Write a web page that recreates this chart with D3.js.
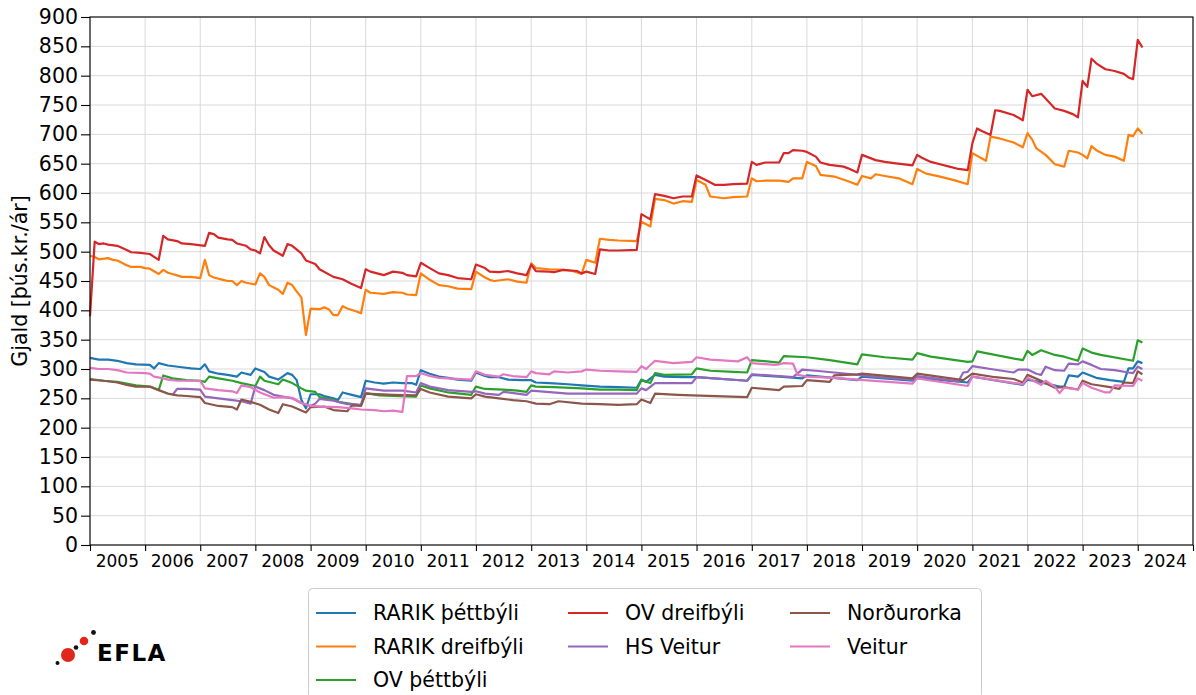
<!DOCTYPE html>
<html>
<head>
<meta charset="utf-8">
<script src="https://cdn.jsdelivr.net/npm/d3@7"></script>
<style>
  body { margin: 0; background: #fff; }
  text { font-family: "DejaVu Sans", sans-serif; fill: #000; }
</style>
</head>
<body>
<svg width="1196" height="695"></svg>
<script>
// Series names (legend order) and matplotlib default colours
const seriesNames = ["RARIK þéttbýli", "RARIK dreifbýli", "OV þéttbýli", "OV dreifbýli",
                     "HS Veitur", "Norðurorka", "Veitur"];
const seriesColors = ["#1f77b4", "#ff7f0e", "#2ca02c", "#d62728", "#9467bd", "#8c564b", "#e377c2"];

// Tick labels
const yearLabels = d3.range(2005, 2025);
const yTickValues = d3.range(0, 901, 50);

// Data: [months since Jan 2005, þús.kr./ár]
const rarikThett = [[0,319],[2,316],[4,316],[6,314],[8,310],[10,308],[13,307],[14,301],[15,310],[17,306],[20,303],[22,301],[24,300],[25,308],[26,296],[28,292],[30,290],[32,287],[33,294],[34,292],[35,290],[36,301],[38,295],[39,287],[41,282],[43,293],[44,290],[45,281],[46,247],[47,233],[48,257],[50,257],[51,254],[53,250],[54,247],[55,260],[57,256],[59,252],[60,280],[62,277],[64,275],[66,277],[68,276],[70,276],[71,273],[72,298],[74,292],[76,287],[78,285],[80,282],[83,280],[84,294],[86,288],[87,286],[89,286],[91,282],[94,281],[96,281],[97,277],[100,276],[104,274],[107,272],[111,270],[115,269],[119,268],[120,282],[121,278],[123,290],[125,287],[129,286],[132,286],[143,280],[144,290],[150,287],[155,284],[156,289],[167,281],[168,287],[179,280],[180,285],[191,277],[192,287],[203,273],[204,282],[206,279],[211,270],[212,270],[213,289],[215,287],[216,294],[219,285],[222,281],[225,278],[226,301],[227,301],[228,313],[229,310]];

const rarikDreif = [[0,493],[1,491],[2,487],[4,489],[5,486],[6,485],[8,477],[9,474],[11,474],[12,472],[13,471],[15,462],[16,469],[17,464],[18,462],[20,457],[22,457],[24,455],[25,486],[26,460],[27,456],[29,452],[30,450],[31,450],[32,443],[33,450],[34,447],[36,444],[37,463],[38,457],[39,443],[41,435],[42,428],[43,447],[44,443],[45,432],[46,422],[47,358],[48,403],[50,402],[51,405],[52,402],[53,392],[54,392],[55,407],[56,403],[58,398],[59,395],[60,435],[61,430],[64,428],[66,431],[68,430],[69,427],[71,426],[72,463],[74,452],[76,443],[78,441],[80,437],[83,436],[84,466],[86,456],[87,452],[88,450],[91,453],[93,449],[95,447],[96,480],[97,472],[100,470],[103,469],[105,467],[107,462],[108,486],[110,481],[111,522],[113,520],[115,519],[119,518],[120,551],[122,543],[123,590],[125,588],[127,582],[129,586],[131,585],[132,622],[134,614],[135,594],[138,591],[140,593],[143,594],[144,625],[145,620],[147,621],[150,621],[152,619],[153,625],[155,625],[156,653],[158,646],[159,631],[162,628],[165,620],[167,614],[168,629],[170,625],[171,632],[173,629],[176,625],[179,615],[180,641],[182,633],[185,628],[188,622],[191,615],[192,668],[195,655],[196,696],[198,693],[201,686],[203,678],[204,702],[205,691],[206,676],[208,665],[210,649],[212,645],[213,672],[215,669],[216,665],[217,659],[218,680],[219,673],[221,665],[223,662],[225,655],[226,699],[227,697],[228,710],[229,701]];

const ovThett = [[0,283],[3,280],[6,278],[10,272],[13,270],[15,264],[16,289],[18,284],[21,281],[24,280],[25,278],[26,287],[28,284],[31,280],[33,276],[36,271],[37,287],[38,280],[41,274],[42,282],[44,276],[46,267],[47,263],[49,261],[50,252],[53,248],[54,244],[59,238],[60,259],[63,255],[66,254],[71,253],[72,272],[74,267],[78,260],[83,256],[84,270],[86,266],[90,265],[93,263],[95,261],[96,272],[97,270],[101,269],[107,267],[111,265],[115,265],[119,264],[120,281],[122,276],[123,293],[125,290],[131,291],[132,301],[135,297],[140,295],[143,294],[144,315],[146,314],[150,311],[151,322],[156,320],[161,315],[167,308],[168,325],[173,320],[179,316],[180,327],[183,321],[191,312],[192,313],[193,330],[195,327],[203,315],[204,331],[205,324],[207,332],[210,324],[212,321],[215,314],[216,335],[218,328],[220,324],[227,314],[228,349],[229,345]];

const ovDreif = [[0,390],[1,517],[2,513],[3,514],[4,512],[6,510],[8,503],[9,499],[11,498],[13,496],[15,486],[16,527],[17,521],[19,518],[20,514],[22,513],[25,510],[26,532],[27,530],[28,524],[30,521],[31,520],[32,514],[34,510],[35,504],[36,502],[37,497],[38,525],[39,511],[40,502],[42,493],[43,513],[44,510],[46,497],[47,485],[49,479],[50,470],[53,457],[55,453],[57,445],[59,438],[60,470],[61,466],[64,460],[66,466],[68,464],[69,460],[71,458],[72,481],[74,472],[76,463],[78,460],[80,455],[83,453],[84,478],[86,472],[87,466],[89,465],[91,467],[93,463],[95,460],[96,478],[97,467],[100,466],[101,465],[103,469],[106,467],[107,463],[108,466],[110,462],[111,504],[113,502],[115,502],[119,503],[120,564],[122,555],[123,598],[125,595],[127,591],[129,594],[131,594],[132,630],[134,622],[136,614],[138,614],[140,615],[143,616],[144,653],[145,648],[147,652],[150,652],[151,668],[152,668],[153,673],[155,672],[156,670],[158,662],[159,652],[161,648],[164,645],[165,642],[167,635],[168,665],[171,656],[173,653],[175,651],[179,647],[180,665],[181,660],[183,653],[185,649],[187,645],[189,641],[191,639],[192,685],[193,710],[194,706],[196,699],[197,741],[198,740],[201,733],[203,724],[204,776],[205,765],[207,769],[208,761],[210,744],[212,740],[214,734],[215,729],[216,791],[217,781],[218,829],[219,821],[221,811],[223,808],[225,803],[226,797],[227,794],[228,861],[229,848]];

const hsVeitur = [[18,256],[19,266],[21,266],[24,265],[25,253],[28,250],[31,247],[33,245],[35,241],[36,270],[38,264],[40,256],[42,253],[44,250],[46,242],[48,237],[49,241],[50,249],[53,246],[56,240],[59,239],[60,267],[64,263],[68,263],[71,260],[72,276],[74,270],[78,264],[83,261],[84,262],[86,258],[89,256],[90,261],[95,256],[96,263],[104,258],[111,258],[115,258],[119,258],[120,267],[121,264],[123,276],[131,276],[132,286],[143,280],[144,291],[150,288],[153,286],[155,299],[158,297],[162,294],[167,290],[172,286],[179,282],[180,288],[189,279],[190,294],[191,295],[192,305],[196,300],[201,294],[202,299],[204,299],[206,292],[207,290],[208,304],[210,298],[212,297],[213,309],[215,308],[216,313],[218,307],[220,300],[223,298],[226,294],[227,293],[228,304],[229,300]];

const nordurorka = [[0,282],[3,280],[6,277],[8,273],[10,270],[13,270],[15,264],[17,258],[19,255],[21,254],[24,252],[25,242],[28,237],[31,235],[32,231],[33,248],[35,244],[37,239],[39,231],[41,225],[42,240],[44,236],[47,226],[48,235],[51,236],[53,230],[56,228],[57,238],[59,237],[60,258],[66,256],[71,255],[72,266],[74,260],[78,253],[83,250],[84,257],[86,253],[89,250],[92,247],[95,245],[97,241],[100,240],[102,245],[107,241],[111,240],[115,239],[119,240],[120,248],[122,242],[123,258],[128,256],[131,255],[143,252],[144,268],[150,264],[151,270],[155,271],[156,281],[161,278],[162,289],[167,291],[168,292],[179,284],[180,292],[190,281],[192,292],[197,286],[201,283],[203,277],[204,290],[207,280],[210,268],[212,269],[215,265],[216,280],[218,274],[222,269],[224,266],[225,277],[227,276],[228,296],[229,291]];

const veitur = [[0,302],[2,300],[4,300],[6,298],[8,294],[12,293],[13,292],[14,287],[16,284],[17,282],[19,280],[24,280],[25,267],[28,264],[31,262],[32,259],[33,272],[35,269],[37,260],[40,251],[42,252],[44,251],[46,242],[48,237],[50,236],[54,235],[57,233],[59,231],[62,230],[64,228],[66,229],[68,227],[69,288],[71,288],[72,293],[74,288],[76,285],[83,282],[84,296],[86,290],[89,287],[90,291],[92,288],[95,286],[96,296],[97,293],[100,291],[101,296],[104,294],[107,296],[108,299],[111,297],[115,296],[119,295],[120,305],[121,300],[123,314],[127,310],[131,312],[132,320],[135,316],[141,313],[143,320],[144,310],[149,307],[150,308],[151,310],[153,309],[154,290],[156,287],[162,285],[167,282],[179,275],[180,284],[191,271],[192,287],[203,274],[204,285],[207,273],[208,280],[210,270],[211,259],[212,268],[215,265],[216,276],[218,268],[221,260],[222,260],[223,272],[227,271],[228,284],[229,280]];

const seriesData = [rarikThett, rarikDreif, ovThett, ovDreif, hsVeitur, nordurorka, veitur];

// Chart geometry
const width = 1196;
const height = 695;
const plot = { left: 90, right: 1193, top: 17, bottom: 545 };

const svg = d3.select("svg");
const start = new Date(2005, 0, 1);
const toDate = m => d3.timeMonth.offset(start, m);

// Scales
const xScale = d3.scaleTime()
    .domain([start, new Date(2025, 0, 1)])
    .range([plot.left, plot.right]);

const yScale = d3.scaleLinear()
    .domain([0, 900])
    .range([plot.bottom, plot.top]);

const yearStarts = d3.range(2005, 2026).map(y => new Date(y, 0, 1));

// Grid
const grid = svg.append("g").attr("stroke", "#d9d9d9").attr("stroke-width", 1);
grid.selectAll(".vgrid")
    .data(yearStarts)
    .enter()
    .append("line")
    .attr("x1", d => xScale(d)).attr("x2", d => xScale(d))
    .attr("y1", plot.top).attr("y2", plot.bottom);
grid.selectAll(".hgrid")
    .data(yTickValues)
    .enter()
    .append("line")
    .attr("x1", plot.left).attr("x2", plot.right)
    .attr("y1", d => yScale(d)).attr("y2", d => yScale(d));

// Lines
const line = d3.line()
    .x(d => xScale(toDate(d[0])))
    .y(d => yScale(d[1]));

svg.selectAll(".series")
    .data(seriesData)
    .enter()
    .append("path")
    .attr("class", "series")
    .attr("fill", "none")
    .attr("stroke", (d, i) => seriesColors[i])
    .attr("stroke-width", 2.2)
    .attr("stroke-linejoin", "round")
    .attr("d", line);

// Axes (ticks only; frame drawn separately)
const xAxis = svg.append("g")
    .attr("transform", `translate(0, ${plot.bottom})`)
    .call(d3.axisBottom(xScale).tickValues(yearStarts).tickFormat("").tickSize(6).tickSizeOuter(0));
xAxis.select(".domain").remove();
xAxis.selectAll("line").attr("stroke", "#000").attr("stroke-width", 1.1);

svg.append("g")
    .selectAll("text")
    .data(yearLabels)
    .enter()
    .append("text")
    .attr("x", d => xScale(new Date(d, 6, 1)))
    .attr("y", plot.bottom + 22)
    .attr("text-anchor", "middle")
    .style("font-size", "17px")
    .text(d => d);

const yAxis = svg.append("g")
    .attr("transform", `translate(${plot.left}, 0)`)
    .call(d3.axisLeft(yScale).tickValues(yTickValues).tickSize(9).tickPadding(3).tickSizeOuter(0));
yAxis.select(".domain").remove();
yAxis.selectAll("line").attr("stroke", "#000").attr("stroke-width", 1.1);
yAxis.selectAll("text")
    .style("font-size", "20.5px")
    .style("font-family", "DejaVu Sans, sans-serif")
    .attr("fill", "#000");

// Frame
svg.append("rect")
    .attr("x", plot.left).attr("y", plot.top)
    .attr("width", plot.right - plot.left).attr("height", plot.bottom - plot.top)
    .attr("fill", "none").attr("stroke", "#000").attr("stroke-width", 1.1);

// Y-axis label
svg.append("text")
    .attr("transform", "rotate(-90)")
    .attr("x", -(plot.top + plot.bottom) / 2)
    .attr("y", 27)
    .attr("text-anchor", "middle")
    .style("font-size", "20.5px")
    .text("Gjald [þús.kr./ár]");

// Legend (3 columns, column-major like matplotlib)
const legend = svg.append("g");
legend.append("rect")
    .attr("x", 308.5).attr("y", 588.5)
    .attr("width", 673).attr("height", 110)
    .attr("rx", 4)
    .attr("fill", "#fff").attr("stroke", "#cccccc");

const colX = [316, 568, 790];
const rowY = [613, 646.5, 680];
const perCol = [3, 2, 2];
const legendItems = seriesNames.map((name, i) => {
    let col = 0, k = i;
    while (k >= perCol[col]) { k -= perCol[col]; col++; }
    return { name, color: seriesColors[i], col, row: k };
});

const item = legend.selectAll(".item")
    .data(legendItems)
    .enter()
    .append("g")
    .attr("transform", d => `translate(${colX[d.col]}, ${rowY[d.row]})`);
item.append("line")
    .attr("x1", 0).attr("x2", 40)
    .attr("stroke", d => d.color).attr("stroke-width", 2.2);
item.append("text")
    .attr("x", 57).attr("y", 7)
    .style("font-size", "20.5px")
    .text(d => d.name);

// EFLA logo
const logo = svg.append("g");
const dots = [
    { x: 68, y: 655, r: 7, c: "#e1251b" },
    { x: 84, y: 641, r: 4.3, c: "#e1251b" },
    { x: 57.5, y: 663, r: 2, c: "#111" },
    { x: 76, y: 647.5, r: 2.3, c: "#111" },
    { x: 93.5, y: 632.5, r: 2.4, c: "#111" }
];
logo.selectAll("circle")
    .data(dots)
    .enter()
    .append("circle")
    .attr("cx", d => d.x).attr("cy", d => d.y).attr("r", d => d.r)
    .attr("fill", d => d.c);
logo.append("text")
    .attr("x", 97).attr("y", 661)
    .style("font-size", "23px")
    .style("font-weight", "bold")
    .style("letter-spacing", "1.5px")
    .text("EFLA");
</script>
</body>
</html>
